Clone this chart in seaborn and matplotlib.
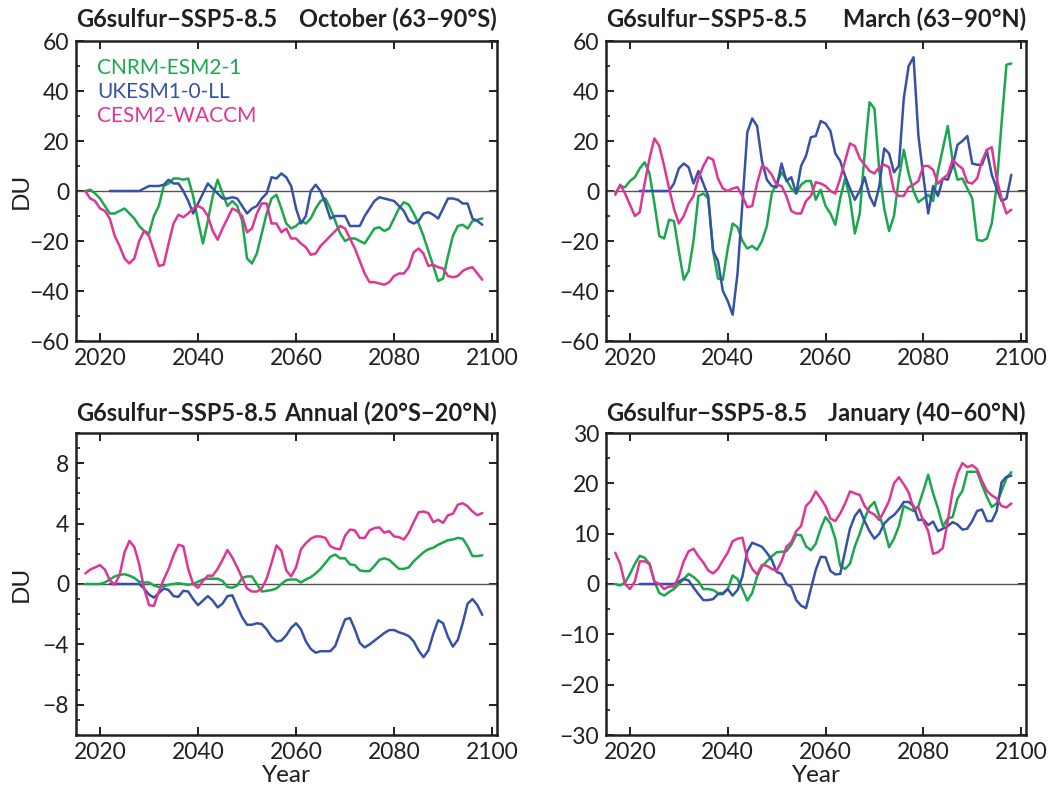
import numpy as np
import pandas as pd
import matplotlib
matplotlib.use("Agg")
import matplotlib.pyplot as plt
from matplotlib.ticker import MultipleLocator
import seaborn as sns

# ---------------- data ----------------
years_full = list(range(2017, 2099))   # CNRM-ESM2-1, CESM2-WACCM
years_uk = list(range(2022, 2099))     # UKESM1-0-LL

models = ["CNRM-ESM2-1", "UKESM1-0-LL", "CESM2-WACCM"]
colors = {"CNRM-ESM2-1": "#19a84b", "UKESM1-0-LL": "#3652a6", "CESM2-WACCM": "#e03595"}

# Panel 1: October (63-90S)
oct_cnrm = [0, 0.5, -1, -3, -6, -9, -9, -8, -7, -9,
            -11, -14, -16, -17, -10, -6, 2, 3, 5, 5,
            4.5, 5, -2, -12, -21, -12, -2, 4.5, -1, -6,
            -4, -6, -12, -27, -29, -25, -17, -9, -3, -1.5,
            -7, -13, -15, -14, -12, -13, -11, -7, -4, -3,
            -7, -12, -17, -20, -19, -19, -20, -21, -18, -15,
            -14.5, -16, -15, -11, -7, -4.5, -5.5, -9, -13, -18,
            -24, -30, -36, -35, -26, -18, -14, -13.5, -15, -12,
            -11.5, -11]
oct_uk = [0, 0, 0, 0, 0, 0, 0, 1, 2, 2,
          2, 2.5, 4.5, 3, 3, 0, -4, -9, -5, -1,
          3, 1, -1, -3, -3, -2.5, -3, -6, -9, -7,
          -6, -3, -1, 5.5, 5, 7, 5.5, 2, -7, -13,
          -10, 0, 2.5, 0, -5, -11, -10, -10, -10, -14,
          -14, -14, -10, -7, -4, -2.5, -3, -3.5, -4, -6,
          -8, -12, -13, -12, -9, -8.5, -9.5, -11, -7, -3,
          -3, -3.5, -5, -5, -11, -12, -13.5]
oct_cesm = [0, -3, -4, -7, -8, -11, -18, -22, -27, -29,
            -27, -20, -16, -18, -24, -30, -29.5, -21, -13, -9.5,
            -10.5, -9, -7, -6, -7, -10, -16, -19.5, -15, -11,
            -7, -8, -10, -16.5, -15, -9, -5, -5, -13, -13,
            -16.5, -15, -19, -19, -21, -22.5, -25.5, -25, -22, -20,
            -18, -16, -14, -15, -19, -23, -28, -33, -36.5, -36.5,
            -37, -37.5, -36.5, -34, -33, -33, -30.5, -24.5, -23, -25,
            -30, -29.5, -30.5, -31, -34, -34.5, -34, -32, -31, -30.5,
            -33, -35.5]

# Panel 2: March (63-90N)
mar_cnrm = [-1, 2, 1.5, 4, 5.5, 9, 11.5, 7, -5, -18,
            -19, -11.5, -12, -24, -35.5, -32, -20, -2, -1, -3,
            -24, -35, -35.5, -23, -13, -14.5, -20, -23, -22, -23.5,
            -20, -14, -1, 3, 7.5, 4.5, 1, -1, 2.5, 4,
            4, -3.5, 0.5, -6, -9, -13.5, -3, 5, -3, -17,
            -9, 15, 35.5, 33, 8, -7, -16, -10, 5, 16.5,
            7, 0, -4.5, -3, -1.5, -4, 8, 17, 26, 12,
            4.5, 5, 1, -3, -19.5, -20, -19, -13, 2, 27,
            50.5, 51]
mar_uk = [0, 0, 0, 0, 0, 0, 0, 3, 9, 11,
          9.5, 3, 8, 3, -2, -24, -28, -40, -44, -49.5,
          -33, -5, 23.5, 29, 26, 12, 4.5, 2, 1.5, 11,
          4, 5.5, -1, 10, 14, 21.5, 22, 28, 27, 24,
          15, 12, 6, 1, -3.5, 0, 5.5, -2, -6, 2,
          17, 15, 7.5, 10, 37, 50, 53.5, 22, 6, -9,
          2, -2, 5, 4.5, 10, 18.5, 20, 22, 11, 10.5,
          10.5, 16, 6.5, 1, -4, -3, 6.5]
mar_cesm = [-1.5, 2.5, -1, -5.5, -10, -8.5, 3, 13, 21, 18,
            10, 1, -7, -13, -10, -5, -2, 5, 10, 13.5,
            12.5, 5, 1, 0, 1, 1.5, -2, -6.5, -6, 3,
            10, 9, 6.5, 2.5, 2, -2, -8, -9, -9, -4,
            -2, 3.5, 3, 2, 0, -1, 5, 12, 19, 18,
            13, 10.5, 8, 7, 9.5, 10.5, 9.5, 0, -2, -2,
            1.5, 2.5, 4, 10, 10, 8.5, 3, 5, 6.5, 12.5,
            10.5, 9, 3.5, 3, 5, 12, 16.5, 17.5, 5, -3,
            -9, -7.5]

# Panel 3: Annual (20S-20N)
ann_cnrm = [0, 0, 0, 0, 0.1, 0.3, 0.5, 0.6, 0.65, 0.55,
            0.4, 0.15, 0.1, 0.1, -0.1, -0.2, -0.15, -0.05, 0, 0.05,
            0, -0.05, 0, 0.15, 0.3, 0.35, 0.35, 0.35, 0.2, -0.2,
            -0.25, -0.1, 0.4, 0.5, 0.5, 0, -0.5, -0.45, -0.4, -0.3,
            0, 0.25, 0.3, 0.3, 0.1, 0.3, 0.45, 0.7, 1.0, 1.4,
            1.8, 1.95, 1.7, 1.7, 1.3, 1.25, 0.9, 0.85, 0.85, 1.2,
            1.6, 1.7, 1.6, 1.3, 1.0, 1.0, 1.1, 1.5, 1.8, 2.1,
            2.3, 2.4, 2.6, 2.75, 2.9, 2.95, 3.05, 3.0, 2.5, 1.85,
            1.85, 1.9]
ann_uk = [0, 0, 0, 0, 0, 0, 0, -0.3, -0.7, -0.9,
          -0.6, -0.3, -0.4, -0.8, -0.85, -0.45, -0.5, -1.0, -1.4, -1.1,
          -0.8, -1.1, -1.55, -1.3, -0.8, -0.75, -1.5, -2.2, -2.7, -2.7,
          -2.6, -2.65, -3.0, -3.5, -3.8, -3.75, -3.4, -2.9, -2.6, -3.0,
          -3.8, -4.3, -4.55, -4.45, -4.45, -4.45, -4.1, -3.2, -2.35, -2.25,
          -3.0, -3.9, -4.2, -4.0, -3.75, -3.5, -3.25, -3.05, -3.05, -3.2,
          -3.3, -3.45, -3.8, -4.4, -4.85, -4.4, -3.3, -2.4, -2.6, -3.5,
          -4.15, -3.7, -2.6, -1.3, -1.0, -1.4, -2.05]
ann_cesm = [0.7, 0.95, 1.1, 1.25, 0.95, 0.25, -0.05, 0.6, 2.1, 2.85,
            2.45, 1.3, -0.3, -1.4, -1.45, -0.5, 0.3, 1.0, 1.9, 2.6,
            2.5, 1.0, 0.0, -0.25, 0.2, 0.55, 0.55, 1.0, 1.6, 2.25,
            1.75, 1.1, 0.4, -0.3, -0.5, -0.5, -0.3, 0.35, 1.4, 2.55,
            2.2, 0.9, 0.5, 1.1, 2.3, 2.7, 3.0, 3.15, 3.15, 3.05,
            2.5, 2.35, 2.3, 3.2, 3.6, 3.55, 3.05, 3.05, 3.55, 3.7,
            3.75, 3.4, 3.5, 3.15, 3.1, 2.95, 3.4, 4.1, 4.75, 4.8,
            4.7, 4.1, 4.25, 4.05, 4.55, 4.65, 5.25, 5.35, 5.15, 4.8,
            4.55, 4.7]

# Panel 4: January (40-60N)
jan_cnrm = [0, -0.3, 0.3, 2, 4, 5.6, 5.2, 4, 0.5, -1.8,
            -2.3, -1.6, -1.0, 0, 1, 2.0, 1.4, 0.5, -1.0, -1.0,
            -1.2, -1.8, -1.8, -1.0, 1.7, 1.0, -1.0, -3.3, -1.8, 1.5,
            3.5, 4.5, 5.5, 6.3, 6.4, 6.5, 7.8, 9.8, 9.7, 7.5,
            6.7, 8, 11, 13.3, 12, 9, 3.6, 3, 4, 7.5,
            10, 13, 15.3, 16.3, 13.5, 11, 7.3, 9, 11.5, 15.5,
            15, 14.5, 15.5, 18.5, 21.7, 18, 15, 11.5, 13, 13.3,
            17, 18.5, 22.3, 22.3, 22.3, 19.7, 17.3, 15.3, 16.0, 18.5,
            21, 22.2]
jan_uk = [0, 0, 0, 0, 0, 0, 0, 0, 0.5, 1.0,
          0.7, -0.7, -2.0, -3.2, -3.2, -3.0, -2.0, -2.0, -1.0, -2.3,
          -1.2, 1.5, 6.5, 8.2, 7.8, 7.4, 6.2, 4.8, 2.4, 2.0,
          0, -0.6, -3.2, -4.3, -4.8, -1.0, 2.8, 5.4, 5.3, 2.6,
          1.9, 2.0, 6.5, 11, 13.5, 14.8, 12.5, 10.5, 9, 10,
          12, 13, 13.7, 14.8, 16.3, 16.3, 15.5, 12.7, 12.8, 11.7,
          12.4, 10.5, 11, 11.5, 12.3, 11.8, 10.8, 11, 12.5, 14.5,
          14.8, 12.5, 12.5, 14.5, 20.2, 21.3, 21.5]
jan_cesm = [6.2, 4, 0, -1, 0.5, 4.5, 4.5, 4, 0.5, 0,
            -1, -0.5, -0.5, 1.5, 4.5, 6.5, 7, 5.5, 4.3, 2.7,
            2.1, 3.0, 4.7, 6.2, 8.5, 9.0, 9.2, 5.0, 3.0, 1.9,
            3.8, 3.6, 3.0, 2.6, 4.5, 7.4, 8.3, 10.5, 11.5, 15.5,
            16.5, 18.4, 17.0, 15.5, 13.0, 12.5, 14.0, 16.0, 18.4, 18.0,
            17.7, 15.5, 14.3, 13.8, 12.7, 14.5, 16.5, 20.0, 21.2, 19.8,
            18.2, 15.0, 15.2, 12.5, 10.5, 6.0, 6.3, 7.2, 12.5, 18.5,
            22.0, 24.0, 23.2, 23.6, 22.8, 20.5, 18.5, 17.6, 17.0, 15.5,
            15.2, 16.0]

titles_left = ["G6sulfur\u2212SSP5-8.5"] * 4
titles_right = ["October (63\u221290\u00b0S)", "March (63\u221290\u00b0N)",
                "Annual (20\u00b0S\u221220\u00b0N)", "January (40\u221260\u00b0N)"]
panel_data = [(oct_cnrm, oct_uk, oct_cesm), (mar_cnrm, mar_uk, mar_cesm),
              (ann_cnrm, ann_uk, ann_cesm), (jan_cnrm, jan_uk, jan_cesm)]
ylims = [(-60, 60), (-60, 60), (-10, 10), (-30, 30)]
yticks = [[-60, -40, -20, 0, 20, 40, 60], [-60, -40, -20, 0, 20, 40, 60],
          [-8, -4, 0, 4, 8], [-30, -20, -10, 0, 10, 20, 30]]
yminor = [10, 10, 1, 5]
xticks = [2020, 2040, 2060, 2080, 2100]

# ---------------- style ----------------
sns.set_theme(style="ticks")
plt.rcParams['font.family'] = ['Lato', 'DejaVu Sans']
plt.rcParams['axes.unicode_minus'] = True
TXT = "#231f20"

W, H = 1050, 788
fig = plt.figure(figsize=(W / 100, H / 100), dpi=100)

# axes boxes in pixels: left, right, top, bottom
boxes = [(76, 497, 41, 341), (606, 1026, 41, 341),
         (76, 497, 433, 735), (606, 1026, 433, 735)]

for i, (l, r, t, b) in enumerate(boxes):
    ax = fig.add_axes([l / W, 1 - b / H, (r - l) / W, (b - t) / H])
    cn, uk, ce = panel_data[i]
    df = pd.concat([
        pd.DataFrame({"Year": years_full, "DU": cn, "Model": models[0]}),
        pd.DataFrame({"Year": years_uk, "DU": uk, "Model": models[1]}),
        pd.DataFrame({"Year": years_full, "DU": ce, "Model": models[2]}),
    ], ignore_index=True)
    ax.axhline(0, color="#555555", lw=1.0, zorder=1)
    sns.lineplot(data=df, x="Year", y="DU", hue="Model", hue_order=models,
                 palette=colors, estimator=None, linewidth=1.8, legend=False,
                 ax=ax, zorder=3)
    ax.set_xlim(2015.1, 2101)
    ax.set_ylim(*ylims[i])
    ax.set_xticks(xticks)
    ax.set_yticks(yticks[i])
    ax.yaxis.set_minor_locator(MultipleLocator(yminor[i]))
    ax.tick_params(which="major", direction="in", top=True, right=True,
                   length=6, width=1.4, labelsize=16.5, colors=TXT, pad=5)
    ax.tick_params(which="minor", direction="in", left=True, right=False,
                   length=3, width=1.2, colors=TXT)
    for sp in ax.spines.values():
        sp.set_linewidth(1.8)
        sp.set_color(TXT)
    ax.set_xlabel("")
    ax.set_ylabel("")
    ytitle = 1 + (14 if i < 2 else 12) / (b - t)
    ax.text(0.0, ytitle, titles_left[i], transform=ax.transAxes, ha="left",
            va="baseline", fontsize=17, fontweight="bold", color=TXT)
    ax.text(1.0, ytitle, titles_right[i], transform=ax.transAxes, ha="right",
            va="baseline", fontsize=17, fontweight="bold", color=TXT)
    if i in (0, 2):
        fig.text(21 / W, 1 - ((t + b) / 2) / H, "DU", rotation=90, ha="center",
                 va="center", fontsize=17.5, color=TXT)
    if i in (2, 3):
        fig.text(((l + r) / 2) / W, 1 - 776 / H, "Year", ha="center",
                 va="center", fontsize=17.5, color=TXT)
    if i == 0:
        for k, (m, yy) in enumerate(zip(models, [0.91, 0.83, 0.75])):
            ax.text(0.05, yy, m, transform=ax.transAxes, ha="left", va="center",
                    fontsize=15, color=colors[m])

fig.savefig("out.png", dpi=100)
